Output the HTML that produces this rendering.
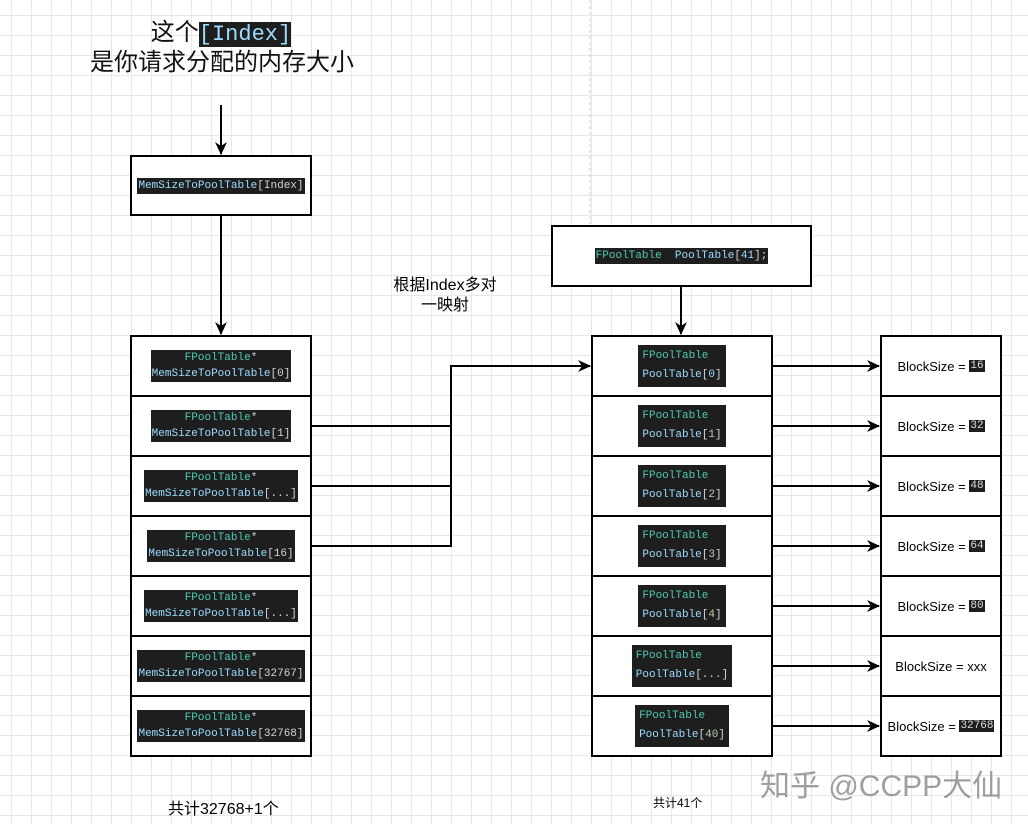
<!DOCTYPE html>
<html><head><meta charset="utf-8"><style>
body{margin:0;width:1028px;height:824px;overflow:hidden;font-family:"Liberation Sans","Noto Sans CJK SC",sans-serif;
background-color:#fff;background-image:linear-gradient(#e8e8e8 1px,transparent 1px),linear-gradient(90deg,#e8e8e8 1px,transparent 1px);background-size:20px 20px;background-position:-9px -5px;position:relative}
.box{position:absolute;border:2px solid #000;background:#fff;box-sizing:border-box;display:flex;align-items:center;justify-content:center;text-align:center}
.c{font-family:"Liberation Mono",monospace;font-size:11px;background:#1e1e1e;color:#9cdcfe;line-height:16px;padding:0 1px}
.g{color:#4ec9b0}.w{color:#d4d4d4}.n{color:#b5cea8}
.t{position:absolute;white-space:nowrap}
.bs{font-size:13px;color:#000}
.bs span{background:#1e1e1e;color:#ddd;font-family:"Liberation Mono",monospace;font-size:11px;padding:0 1px}
</style></head><body>
<div class="t" style="left:90px;top:19px;width:262px;text-align:center;font-size:24px;line-height:28px;color:#111">这个<span style="font-family:'Liberation Mono',monospace;background:#1e1e1e;color:#9cdcfe;font-size:22px">[Index]</span><br>是你请求分配的内存大小</div>

<div class="box" style="left:130px;top:155px;width:182px;height:61px"><span class="c">MemSizeToPoolTable<span class="w">[Index]</span></span></div>
<div class="box" style="left:551px;top:225px;width:261px;height:62px"><span class="c"><span class="g">FPoolTable</span>&nbsp; PoolTable<span class="w">[</span><span style="color:#9cdcfe">41</span><span class="w">];</span></span></div>

<div class="t" style="left:380px;top:276px;width:130px;text-align:center;font-size:16px;line-height:20px">根据Index多对<br>一映射</div>

<div class="box" style="left:130px;top:335px;width:182px;height:62px"><span class="c"><span class="g">FPoolTable</span><span class="w">*</span><br>MemSizeToPoolTable<span class="w">[0]</span></span></div>
<div class="box" style="left:130px;top:395px;width:182px;height:62px"><span class="c"><span class="g">FPoolTable</span><span class="w">*</span><br>MemSizeToPoolTable<span class="w">[1]</span></span></div>
<div class="box" style="left:130px;top:455px;width:182px;height:62px"><span class="c"><span class="g">FPoolTable</span><span class="w">*</span><br>MemSizeToPoolTable<span class="w">[...]</span></span></div>
<div class="box" style="left:130px;top:515px;width:182px;height:62px"><span class="c"><span class="g">FPoolTable</span><span class="w">*</span><br>MemSizeToPoolTable<span class="w">[16]</span></span></div>
<div class="box" style="left:130px;top:575px;width:182px;height:62px"><span class="c"><span class="g">FPoolTable</span><span class="w">*</span><br>MemSizeToPoolTable<span class="w">[...]</span></span></div>
<div class="box" style="left:130px;top:635px;width:182px;height:62px"><span class="c"><span class="g">FPoolTable</span><span class="w">*</span><br>MemSizeToPoolTable<span class="w">[32767]</span></span></div>
<div class="box" style="left:130px;top:695px;width:182px;height:62px"><span class="c"><span class="g">FPoolTable</span><span class="w">*</span><br>MemSizeToPoolTable<span class="w">[32768]</span></span></div>

<div class="box" style="left:591px;top:335px;width:182px;height:62px"><span class="c" style="padding:2px 4px;line-height:19px;text-align:left"><span class="g">FPoolTable</span><br>PoolTable<span class="w">[</span>0<span class="w">]</span></span></div>
<div class="box" style="left:591px;top:395px;width:182px;height:62px"><span class="c" style="padding:2px 4px;line-height:19px;text-align:left"><span class="g">FPoolTable</span><br>PoolTable<span class="w">[</span><span class="n">1</span><span class="w">]</span></span></div>
<div class="box" style="left:591px;top:455px;width:182px;height:62px"><span class="c" style="padding:2px 4px;line-height:19px;text-align:left"><span class="g">FPoolTable</span><br>PoolTable<span class="w">[</span><span class="n">2</span><span class="w">]</span></span></div>
<div class="box" style="left:591px;top:515px;width:182px;height:62px"><span class="c" style="padding:2px 4px;line-height:19px;text-align:left"><span class="g">FPoolTable</span><br>PoolTable<span class="w">[</span><span class="n">3</span><span class="w">]</span></span></div>
<div class="box" style="left:591px;top:575px;width:182px;height:62px"><span class="c" style="padding:2px 4px;line-height:19px;text-align:left"><span class="g">FPoolTable</span><br>PoolTable<span class="w">[</span><span class="n">4</span><span class="w">]</span></span></div>
<div class="box" style="left:591px;top:635px;width:182px;height:62px"><span class="c" style="padding:2px 4px;line-height:19px;text-align:left"><span class="g">FPoolTable</span><br>PoolTable<span class="w">[...]</span></span></div>
<div class="box" style="left:591px;top:695px;width:182px;height:62px"><span class="c" style="padding:2px 4px;line-height:19px;text-align:left"><span class="g">FPoolTable</span><br>PoolTable<span class="w">[</span><span class="n">40</span><span class="w">]</span></span></div>

<div class="box bs" style="left:880px;top:335px;width:122px;height:62px">BlockSize =&nbsp;<span>16</span></div>
<div class="box bs" style="left:880px;top:395px;width:122px;height:62px">BlockSize =&nbsp;<span>32</span></div>
<div class="box bs" style="left:880px;top:455px;width:122px;height:62px">BlockSize =&nbsp;<span>48</span></div>
<div class="box bs" style="left:880px;top:515px;width:122px;height:62px">BlockSize =&nbsp;<span>64</span></div>
<div class="box bs" style="left:880px;top:575px;width:122px;height:62px">BlockSize =&nbsp;<span>80</span></div>
<div class="box bs" style="left:880px;top:635px;width:122px;height:62px">BlockSize = xxx</div>
<div class="box bs" style="left:880px;top:695px;width:122px;height:62px">BlockSize =&nbsp;<span>32768</span></div>

<svg style="position:absolute;left:0;top:0" width="1028" height="824">
<defs><marker id="a" markerWidth="13" markerHeight="12" refX="12" refY="6" orient="auto" markerUnits="userSpaceOnUse"><path d="M0,0 L13,6 L0,12 L4,6 z" fill="#000"/></marker></defs>
<line x1="590" y1="0" x2="590" y2="224" stroke="#ccc" stroke-dasharray="3,3"/>
<g stroke="#000" stroke-width="2" fill="none">
<line x1="221" y1="105" x2="221" y2="154" marker-end="url(#a)"/>
<line x1="221" y1="216" x2="221" y2="334" marker-end="url(#a)"/>
<line x1="681" y1="287" x2="681" y2="334" marker-end="url(#a)"/>
<polyline points="312,426 451,426 451,366 590,366" marker-end="url(#a)"/>
<polyline points="312,486 451,486 451,426"/>
<polyline points="312,546 451,546 451,486"/>
<line x1="773" y1="366" x2="879" y2="366" marker-end="url(#a)"/>
<line x1="773" y1="426" x2="879" y2="426" marker-end="url(#a)"/>
<line x1="773" y1="486" x2="879" y2="486" marker-end="url(#a)"/>
<line x1="773" y1="546" x2="879" y2="546" marker-end="url(#a)"/>
<line x1="773" y1="606" x2="879" y2="606" marker-end="url(#a)"/>
<line x1="773" y1="666" x2="879" y2="666" marker-end="url(#a)"/>
<line x1="773" y1="726" x2="879" y2="726" marker-end="url(#a)"/>
</g></svg>

<div class="t" style="left:168px;top:795px;font-size:16px">共计32768+1个</div>
<div class="t" style="left:653px;top:794px;font-size:12px">共计41个</div>
<div class="t" style="left:760px;top:761px;font-size:30px;color:#888;opacity:.8">知乎 @CCPP大仙</div>
</body></html>
